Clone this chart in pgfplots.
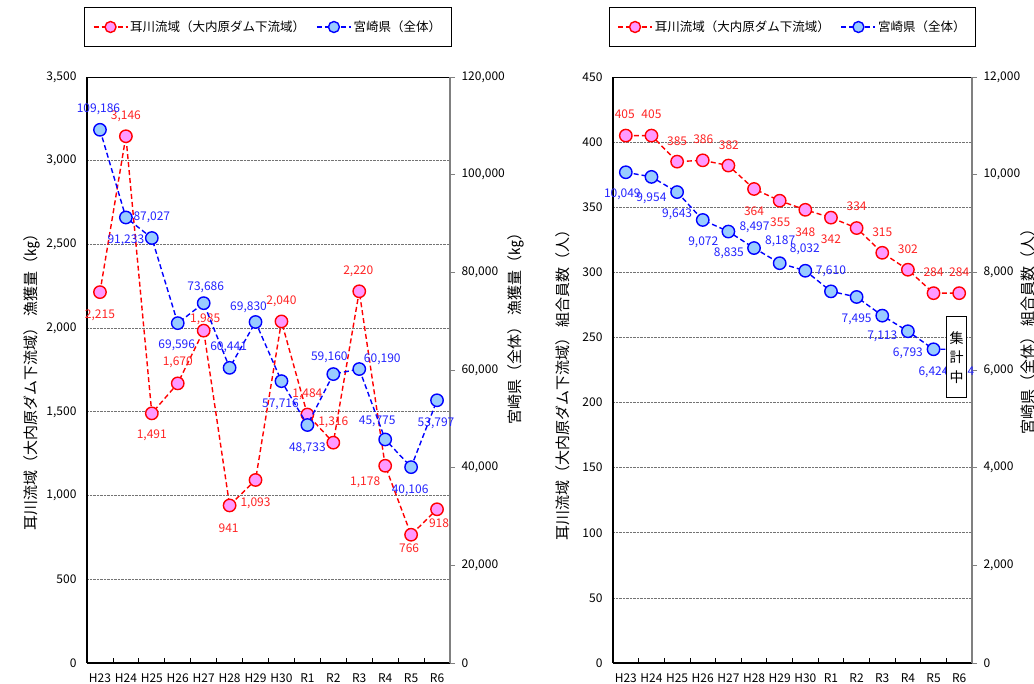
\documentclass[border=0pt]{standalone}
\usepackage{pgfplots}
\pgfplotsset{compat=1.18}
\usepackage{fontspec}
\setmainfont{Noto Sans CJK JP}

\definecolor{rline}{RGB}{255,0,0}
\definecolor{rfill}{RGB}{255,153,255}
\definecolor{bline}{RGB}{0,0,255}
\definecolor{bfill}{RGB}{153,204,255}
\definecolor{rtext}{RGB}{255,35,35}
\definecolor{btext}{RGB}{35,35,255}

\newcommand{\fs}{\fontsize{12}{14}\selectfont}
% data label: style, x, y, dx, dy, text
\newcommand{\lab}[6]{\node[#1] at (axis cs:#2,#3) [xshift=#4pt,yshift=#5pt] {#6};}

\tikzset{
  rlab/.style={text=rtext, font=\fs, inner sep=0pt},
  blab/.style={text=btext, font=\fs, inner sep=0pt},
}

\pgfplotsset{
  panel/.style={
    scale only axis, height=586pt, anchor=south west, clip=false,
    xmin=-0.5, xmax=13.5,
    tick label style={font=\fs},
    /pgf/number format/fixed,
    /pgf/number format/assume math mode=true,
    /pgf/number format/1000 sep={,},
    scaled y ticks=false,
  },
  leftaxis/.style={
    axis x line*=bottom, axis y line*=left,
    axis line style={black, line width=1.5pt},
    xtick={0,...,13},
    xticklabels={H23,H24,H25,H26,H27,H28,H29,H30,R1,R2,R3,R4,R5,R6},
    xticklabel style={yshift=-7pt},
    yticklabel style={xshift=-7pt},
    minor xtick={-0.5,0.5,...,13.5},
    major x tick style={draw=none},
    major y tick style={draw=none},
    minor x tick style={black, line width=0.8pt},
    minor tick length=5pt, tick align=inside,
    ymajorgrids, major grid style={densely dotted, black!55, line width=0.7pt},
  },
  rightaxis/.style={
    axis y line*=right, axis x line=none,
    y axis line style={black!50, line width=1.2pt},
    major y tick style={black!50, line width=0.8pt},
    yticklabel style={xshift=3pt},
    tick align=outside, major tick length=5pt,
  },
  rser/.style={rline, line width=1.4pt, dash pattern=on 5pt off 3pt,
    mark=*, mark size=6.2pt,
    mark options={solid, draw=rline, fill=rfill, line width=1.4pt}},
  bser/.style={bline, line width=1.4pt, dash pattern=on 5pt off 3pt,
    mark=*, mark size=6.2pt,
    mark options={solid, draw=bline, fill=bfill, line width=1.4pt}},
  mylegend/.style={
    legend columns=2,
    legend style={at={(#1)}, anchor=center, draw=black, line width=1pt,
      font=\fontsize{12.5}{14}\selectfont, inner xsep=8pt, inner ysep=11.5pt,
      /tikz/every even column/.append style={column sep=9pt}},
    legend image code/.code={\draw[mark repeat=2,mark phase=2, mark size=5.5pt]
      plot coordinates {(0pt,0pt) (17pt,0pt) (34pt,0pt)};},
  },
}

\begin{document}
\begin{tikzpicture}
\useasboundingbox (0,0) rectangle (1034pt,684pt);

% ---------- left panel: catch (kg) ----------
\begin{axis}[panel, leftaxis, at={(87pt,21pt)}, width=363pt,
  ymin=0, ymax=3500, ytick={0,500,...,3500},
  mylegend={0.4986,1.0853}]
\addplot[rser] coordinates {
  (0,2215) (1,3146) (2,1491) (3,1670) (4,1985) (5,941) (6,1093)
  (7,2040) (8,1484) (9,1316) (10,2220) (11,1178) (12,766) (13,918)};
\addlegendentry{耳川流域（大内原ダム下流域）}
\addlegendimage{bser}
\addlegendentry{宮崎県（全体）}
\draw[black, line width=0.8pt] (axis cs:-0.5,3500) -- (axis cs:13.5,3500);
\lab{rlab}{0}{2215}{0}{-23}{2,215}
\lab{rlab}{1}{3146}{0}{20}{3,146}
\lab{rlab}{2}{1491}{0}{-22}{1,491}
\lab{rlab}{3}{1670}{0}{21}{1,670}
\lab{rlab}{4}{1985}{1.5}{11}{1,985}
\lab{rlab}{5}{941}{-1}{-23}{941}
\lab{rlab}{6}{1093}{0}{-23}{1,093}
\lab{rlab}{7}{2040}{0}{20.5}{2,040}
\lab{rlab}{8}{1484}{0}{20.5}{1,484}
\lab{rlab}{9}{1316}{0}{20}{1,316}
\lab{rlab}{10}{2220}{-1}{20}{2,220}
\lab{rlab}{11}{1178}{-20}{-17}{1,178}
\lab{rlab}{12}{766}{-2}{-13}{766}
\lab{rlab}{13}{918}{2}{-14}{918}
\end{axis}

\begin{axis}[panel, rightaxis, at={(87pt,21pt)}, width=363pt,
  ymin=0, ymax=120000, ytick={0,20000,...,120000}]
\addplot[bser] coordinates {
  (0,109186) (1,91233) (2,87027) (3,69596) (4,73686) (5,60441) (6,69830)
  (7,57716) (8,48733) (9,59160) (10,60190) (11,45775) (12,40106) (13,53797)};
\lab{blab}{0}{109186}{-1.5}{21}{109,186}
\lab{blab}{1}{91233}{0}{-23}{91,233}
\lab{blab}{2}{87027}{0}{21}{87,027}
\lab{blab}{3}{69596}{-1}{-22}{69,596}
\lab{blab}{4}{73686}{2}{16}{73,686}
\lab{blab}{5}{60441}{-1}{21}{60,441}
\lab{blab}{6}{69830}{-7}{15}{69,830}
\lab{blab}{7}{57716}{-1}{-23}{57,716}
\lab{blab}{8}{48733}{0}{-23}{48,733}
\lab{blab}{9}{59160}{-4}{17}{59,160}
\lab{blab}{10}{60190}{23}{10}{60,190}
\lab{blab}{11}{45775}{-8}{18.5}{45,775}
\lab{blab}{12}{40106}{-1}{-23}{40,106}
\lab{blab}{13}{53797}{-1}{-23}{53,797}
\end{axis}

% ---------- right panel: members ----------
\begin{axis}[panel, leftaxis, at={(613pt,21pt)}, width=359pt,
  ymin=0, ymax=450, ytick={0,50,...,450},
  mylegend={0.5,1.0853}]
\addplot[rser] coordinates {
  (0,405) (1,405) (2,385) (3,386) (4,382) (5,364) (6,355)
  (7,348) (8,342) (9,334) (10,315) (11,302) (12,284) (13,284)};
\addlegendentry{耳川流域（大内原ダム下流域）}
\addlegendimage{bser}
\addlegendentry{宮崎県（全体）}
\draw[black, line width=0.8pt] (axis cs:-0.5,450) -- (axis cs:13.5,450);
\lab{rlab}{0}{405}{-1}{21.5}{405}
\lab{rlab}{1}{405}{0}{21.5}{405}
\lab{rlab}{2}{385}{0}{20.5}{385}
\lab{rlab}{3}{386}{0.5}{21}{386}
\lab{rlab}{4}{382}{0.5}{20.5}{382}
\lab{rlab}{5}{364}{0}{-22.5}{364}
\lab{rlab}{6}{355}{0.5}{-22}{355}
\lab{rlab}{7}{348}{0}{-22}{348}
\lab{rlab}{8}{342}{0}{-21.5}{342}
\lab{rlab}{9}{334}{0}{22}{334}
\lab{rlab}{10}{315}{0}{21}{315}
\lab{rlab}{11}{302}{0}{20.5}{302}
\lab{rlab}{12}{284}{0}{21}{284}
\lab{rlab}{13}{284}{0}{21}{284}
\end{axis}

\begin{axis}[panel, rightaxis, at={(613pt,21pt)}, width=359pt,
  ymin=0, ymax=12000, ytick={0,2000,...,12000}]
\addplot[bser] coordinates {
  (0,10049) (1,9954) (2,9643) (3,9072) (4,8835) (5,8497) (6,8187)
  (7,8032) (8,7610) (9,7495) (10,7113) (11,6793) (12,6424) (13,6424)};
\lab{blab}{0}{10049}{-3.5}{-22.5}{10,049}
\lab{blab}{1}{9954}{0}{-21.5}{9,954}
\lab{blab}{2}{9643}{0}{-22}{9,643}
\lab{blab}{3}{9072}{0.5}{-22.5}{9,072}
\lab{blab}{4}{8835}{0.5}{-21.5}{8,835}
\lab{blab}{5}{8497}{0.5}{21}{8,497}
\lab{blab}{6}{8187}{0.5}{21.5}{8,187}
\lab{blab}{7}{8032}{-0.5}{21.5}{8,032}
\lab{blab}{8}{7610}{0}{20.5}{7,610}
\lab{blab}{9}{7495}{0}{-22}{7,495}
\lab{blab}{10}{7113}{0}{-21}{7,113}
\lab{blab}{11}{6793}{0}{-22}{6,793}
\lab{blab}{12}{6424}{0}{-22.5}{6,424}
\lab{blab}{13}{6424}{0}{-22.5}{6,424}
\coordinate (boxc) at (axis cs:12.9,6262);
\end{axis}

% "集計中" box, drawn over the last (not yet final) point
\node[draw=black, fill=white, line width=0.8pt, minimum width=20pt,
  minimum height=81pt, inner sep=0pt, align=center,
  font=\fontsize{14}{19.5}\selectfont] at (boxc) {集\\計\\中};

% axis titles
\begin{scope}[every node/.style={rotate=90, font=\fontsize{15}{17}\selectfont}]
\node at (32pt,305.5pt) {耳川流域（大内原ダム下流域） 漁獲量（㎏）};
\node at (516pt,359pt) {宮崎県（全体） 漁獲量（㎏）};
\node at (563pt,302.5pt) {耳川流域（大内原ダム下流域） 組合員数（人）};
\node at (1028pt,356pt) {宮崎県（全体） 組合員数（人）};
\end{scope}
\end{tikzpicture}
\end{document}
